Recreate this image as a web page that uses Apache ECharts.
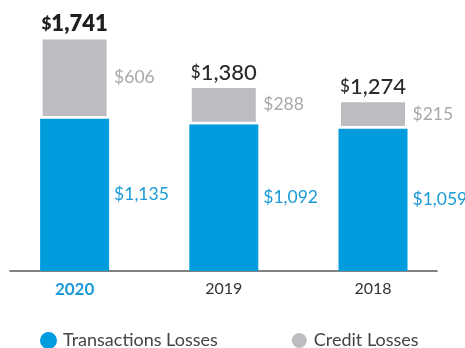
<!DOCTYPE html>
<html>
<head>
<meta charset="utf-8">
<script src="https://cdn.jsdelivr.net/npm/echarts@6/dist/echarts.min.js"></script>
<style>
  html, body { margin: 0; padding: 0; background: #fff; }
  #chart { width: 465px; height: 348px; }
</style>
</head>
<body>
<div id="chart"></div>
<script>
// Losses by year, in millions of dollars
const years = ['2020', '2019', '2018'];
const transactionLosses = [1135, 1092, 1059];
const creditLosses = [606, 288, 215];
const seriesNames = ['Transactions Losses', 'Credit Losses'];

const BLUE = '#009cde';
const GREY = '#bcbdc0';
const FONT = 'Lato, "Open Sans", sans-serif';

const totals = years.map((_, i) => transactionLosses[i] + creditLosses[i]);
const money = v => '$' + v.toLocaleString('en-US');

const chart = echarts.init(document.getElementById('chart'), null, { renderer: 'canvas' });

chart.setOption({
  animation: false,
  textStyle: { fontFamily: FONT },
  grid: [
    { left: 0, right: 17.4, top: 29, bottom: 77 },
    // thin grid that only carries the baseline rule
    { left: 10, right: 28, bottom: 77, height: 1 }
  ],
  xAxis: [
    {
      type: 'category',
      gridIndex: 0,
      data: years,
      axisLine: { show: false },
      axisTick: { show: false },
      axisLabel: {
        margin: 10,
        fontFamily: FONT,
        fontSize: 16,
        color: '#333',
        formatter: v => v === years[0] ? '{hl|' + v + '}' : v,
        rich: { hl: { color: '#1a9ad6', fontWeight: 'bold', fontSize: 17, fontFamily: FONT } }
      }
    },
    {
      type: 'value',
      gridIndex: 1,
      min: 0,
      max: 1,
      axisLine: { show: true, onZero: false, lineStyle: { color: '#5a5a5a', width: 1.6 } },
      axisTick: { show: false },
      axisLabel: { show: false },
      splitLine: { show: false }
    }
  ],
  yAxis: [
    { type: 'value', gridIndex: 0, min: 0, max: 1800, show: false },
    { type: 'value', gridIndex: 1, min: 0, max: 1, show: false }
  ],
  legend: {
    data: seriesNames,
    left: 40,
    top: 331,
    padding: 0,
    icon: 'circle',
    itemWidth: 17,
    itemHeight: 17,
    itemGap: 72,
    textStyle: { fontFamily: FONT, fontSize: 18, color: '#444', padding: [0, 0, 0, 1] }
  },
  series: [
    {
      name: seriesNames[0],
      type: 'bar',
      stack: 'loss',
      barWidth: 69,
      data: transactionLosses,
      itemStyle: { color: BLUE },
      label: {
        show: true,
        position: 'right',
        distance: 5,
        fontFamily: FONT,
        fontSize: 17.5,
        color: '#1a9ad6',
        formatter: p => money(p.value)
      }
    },
    {
      name: seriesNames[1],
      type: 'bar',
      stack: 'loss',
      barWidth: 69,
      data: creditLosses,
      itemStyle: { color: GREY, borderColor: '#fff', borderWidth: 2.5 },
      label: {
        show: true,
        position: 'right',
        distance: 5,
        fontFamily: FONT,
        fontSize: 17.5,
        color: '#a9a9ab',
        formatter: p => money(p.value)
      }
    },
    {
      name: 'Total',
      type: 'bar',
      stack: 'loss',
      barWidth: 69,
      data: years.map(() => 0),
      itemStyle: { color: 'transparent' },
      label: {
        show: true,
        position: 'top',
        distance: 2,
        formatter: p => {
          const tag = p.dataIndex === 0 ? 'b' : 'm';
          return '{' + tag + 's|$}{' + tag + '|' + totals[p.dataIndex].toLocaleString('en-US') + '}';
        },
        rich: {
          bs: { fontFamily: FONT, fontSize: 17, fontWeight: 800, color: '#1f1f1f' },
          b: { fontFamily: FONT, fontSize: 22, fontWeight: 800, color: '#1f1f1f' },
          ms: { fontFamily: FONT, fontSize: 17, fontWeight: 500, color: '#2a2a2a' },
          m: { fontFamily: FONT, fontSize: 22, fontWeight: 500, color: '#2a2a2a' }
        }
      }
    }
  ]
});
</script>
</body>
</html>
